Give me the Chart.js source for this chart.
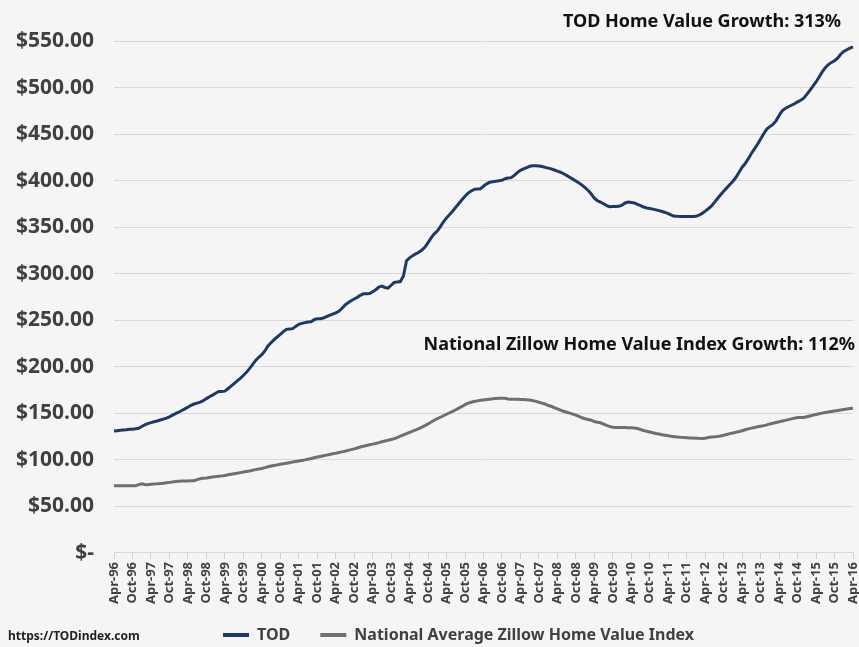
<!DOCTYPE html>
<html>
<head>
<meta charset="utf-8">
<script src="https://cdn.jsdelivr.net/npm/chart.js@4.4.1/dist/chart.umd.min.js"></script>
<style>
  html, body { margin: 0; padding: 0; background: #f5f5f5; }
  #wrap { width: 859px; height: 647px; position: relative; }
</style>
</head>
<body>
<div id="wrap"><canvas id="c" width="859" height="647"></canvas></div>
<script>
// ---- Data ----
const startYear = 1996;
const startMonth = 3; // April (0-based)
const monthNames = ['Jan','Feb','Mar','Apr','May','Jun','Jul','Aug','Sep','Oct','Nov','Dec'];

const tickLabels = ['Apr-96','Oct-96','Apr-97','Oct-97','Apr-98','Oct-98','Apr-99','Oct-99','Apr-00','Oct-00',
  'Apr-01','Oct-01','Apr-02','Oct-02','Apr-03','Oct-03','Apr-04','Oct-04','Apr-05','Oct-05',
  'Apr-06','Oct-06','Apr-07','Oct-07','Apr-08','Oct-08','Apr-09','Oct-09','Apr-10','Oct-10',
  'Apr-11','Oct-11','Apr-12','Oct-12','Apr-13','Oct-13','Apr-14','Oct-14','Apr-15','Oct-15','Apr-16'];

const todValues = [
  131.0,131.4,131.8,132.1,132.4,132.8,133.0,133.4,134.0,135.8,137.6,139.0,
  140.0,141.0,141.8,142.8,143.8,144.8,146.2,148.0,149.6,151.2,153.0,154.8,
  156.6,158.6,160.0,161.0,162.0,163.6,165.8,167.8,169.6,171.6,173.4,173.4,
  173.8,176.4,179.2,182.0,184.8,187.6,190.6,194.0,198.0,202.4,206.8,210.2,
  213.0,217.0,222.4,225.8,229.2,232.0,234.8,237.8,240.2,240.6,241.0,243.4,
  245.6,246.6,247.4,248.2,248.4,250.6,251.6,251.6,252.4,253.8,255.2,256.6,
  258.0,259.6,262.6,266.2,268.8,271.0,272.8,274.6,276.8,278.4,278.4,278.6,
  280.6,282.8,285.6,286.6,285.2,284.6,287.6,290.6,291.2,291.6,297.6,314.0,
  317.0,319.4,321.4,323.0,325.4,328.6,333.4,338.4,342.8,345.8,350.6,355.8,
  360.0,363.6,367.4,371.4,375.4,379.4,383.2,386.6,388.8,390.6,391.0,391.2,
  394.0,396.6,398.2,398.8,399.4,399.8,400.4,402.0,402.8,403.2,405.6,408.6,
  411.0,412.6,414.0,415.4,416.0,416.0,415.8,415.2,414.2,413.4,412.6,411.4,
  410.2,409.0,407.4,405.6,403.6,401.6,399.6,397.4,395.2,392.4,389.4,385.6,
  381.2,378.4,376.8,375.2,373.2,372.0,372.2,372.3,372.4,373.6,376.0,377.0,
  376.6,376.0,374.6,373.2,371.6,370.6,370.0,369.4,368.6,367.8,366.8,365.8,
  364.6,363.0,361.8,361.6,361.5,361.5,361.4,361.4,361.5,361.6,362.8,364.8,
  367.2,369.8,372.6,376.6,380.8,384.8,388.6,392.2,395.8,399.4,403.6,409.0,
  414.4,418.4,423.6,429.2,434.0,439.0,444.6,450.4,455.4,458.0,460.4,464.2,
  470.0,475.0,477.6,479.4,481.0,482.6,484.6,486.4,488.6,492.6,497.0,501.6,
  506.0,511.4,516.8,521.2,524.6,527.0,528.8,531.6,535.8,538.8,540.6,542.4,543.8
];

const zillowValues = [
  72.2,72.2,72.2,72.2,72.2,72.2,72.2,72.3,73.4,74.4,73.6,73.4,
  73.8,74.0,74.2,74.5,74.8,75.3,75.8,76.3,76.7,77.0,77.2,77.3,
  77.4,77.5,77.6,78.8,79.8,80.2,80.6,81.1,81.6,82.0,82.4,82.8,
  83.3,83.9,84.5,85.1,85.7,86.3,86.9,87.5,88.1,88.8,89.5,90.2,
  90.7,91.6,92.6,93.4,94.0,94.6,95.2,95.8,96.4,97.0,97.6,98.2,
  98.8,99.4,100.0,100.7,101.4,102.2,103.0,103.7,104.4,105.1,105.8,106.6,
  107.2,107.9,108.6,109.3,110.2,111.0,111.8,112.8,113.8,114.6,115.5,116.3,
  116.9,117.6,118.5,119.5,120.3,121.0,121.8,122.8,124.0,125.4,126.8,128.2,
  129.6,130.9,132.2,133.6,135.2,136.8,138.6,140.6,142.6,144.2,145.8,147.4,
  149.0,150.6,152.2,153.8,155.6,157.4,159.3,161.0,161.9,162.7,163.4,164.0,
  164.4,164.8,165.2,165.6,165.9,166.1,166.2,166.2,165.4,165.1,165.0,165.0,
  164.9,164.8,164.6,164.2,163.6,162.8,161.9,161.0,160.0,158.4,157.6,156.2,
  154.8,153.4,152.2,151.2,150.2,149.2,148.0,146.6,145.2,144.2,143.4,142.6,
  141.2,140.4,139.8,138.4,137.0,135.8,135.0,134.8,134.8,134.7,134.7,134.6,
  134.4,134.2,133.8,132.6,131.6,130.8,130.0,129.2,128.4,127.7,127.0,126.4,
  125.8,125.3,124.9,124.5,124.2,124.0,123.8,123.6,123.5,123.3,123.1,123.0,
  123.1,124.0,124.6,124.8,125.1,125.6,126.4,127.3,128.2,128.9,129.6,130.4,
  131.3,132.3,133.3,134.1,134.8,135.5,136.2,136.8,137.6,138.6,139.4,140.2,
  140.9,141.7,142.4,143.2,144.0,144.8,145.5,145.5,145.6,146.3,147.2,148.1,
  148.8,149.5,150.2,150.8,151.4,152.0,152.6,153.1,153.6,154.1,154.6,155.1,155.5
];

const seriesNames = ['TOD', 'National Average Zillow Home Value Index'];
const annotations = ['TOD Home Value Growth: 313%', 'National Zillow Home Value Index Growth: 112%'];
const sourceText = 'https://TODindex.com';

// monthly category labels (Apr-96 ... Apr-16)
const categories = [];
for (let i = 0; i < todValues.length; i++) {
  const mi = startMonth + i;
  const y = startYear + Math.floor(mi / 12);
  categories.push(monthNames[mi % 12] + '-' + String(y % 100).padStart(2, '0'));
}

const FONT = '"Noto Sans", "DejaVu Sans", sans-serif';
Chart.defaults.font.family = FONT;

const textPlugin = {
  id: 'textPlugin',
  afterLayout(chart) {
    const lg = chart.legend;
    if (lg) {
      lg.left += 28; lg.right += 28;
      lg.top -= 10;
    }
  },
  afterDraw(chart) {
    const ctx = chart.ctx;
    ctx.save();
    ctx.fillStyle = '#111111';
    ctx.font = 'bold 18px ' + FONT;
    ctx.textAlign = 'right';
    ctx.textBaseline = 'middle';
    ctx.fillText(annotations[0], 841, 22);
    ctx.fillText(annotations[1], 855, 345);
    ctx.font = 'bold 12px ' + FONT;
    ctx.textAlign = 'left';
    ctx.fillStyle = '#222222';
    ctx.fillText(sourceText, 8, 637);
    ctx.restore();
  }
};

new Chart(document.getElementById('c'), {
  type: 'line',
  data: {
    labels: categories,
    datasets: [
      { label: seriesNames[0], data: todValues, borderColor: '#1f3864', backgroundColor: '#1f3864',
        borderWidth: 3, pointRadius: 0, tension: 0 },
      { label: seriesNames[1], data: zillowValues, borderColor: '#6f6f6f', backgroundColor: '#6f6f6f',
        borderWidth: 3, pointRadius: 0, tension: 0 }
    ]
  },
  options: {
    responsive: false,
    animation: false,
    layout: { padding: { left: 8, right: 6, top: 41, bottom: 0 } },
    plugins: {
      tooltip: { enabled: false },
      legend: {
        position: 'bottom',
        maxHeight: 40,
        labels: {
          boxWidth: 26, boxHeight: 4, padding: 30,
          color: '#404040',
          font: { size: 16, weight: 'bold' },
          generateLabels(chart) {
            return chart.data.datasets.map((d, i) => ({
              text: d.label, fillStyle: d.borderColor, strokeStyle: d.borderColor,
              lineWidth: 0, hidden: false, datasetIndex: i, fontColor: '#404040'
            }));
          }
        }
      }
    },
    scales: {
      x: {
        offset: false,
        afterFit(scale) { scale.paddingLeft = 0; scale.paddingRight = 0; },
        grid: { drawOnChartArea: false, drawTicks: true, tickLength: 6, color: '#d0d0d0' },
        border: { display: true, color: '#d9d9d9' },
        ticks: {
          autoSkip: false, maxRotation: 90, minRotation: 90, padding: 3,
          color: '#404040', font: { size: 13, weight: 'bold' },
          callback(val, idx) {
            return idx % 6 === 0 ? tickLabels[idx / 6] : null;
          }
        }
      },
      y: {
        min: 0, max: 550,
        afterFit(scale) { scale.width = 106; },
        grid: { color: '#d9d9d9', drawTicks: false },
        border: { display: false },
        ticks: {
          stepSize: 50, padding: 20,
          color: '#404040', font: { size: 21, weight: 'bold' },
          callback(v) { return v === 0 ? '$-' : '$' + v.toFixed(2); }
        }
      }
    }
  },
  plugins: [textPlugin]
});
</script>
</body>
</html>
